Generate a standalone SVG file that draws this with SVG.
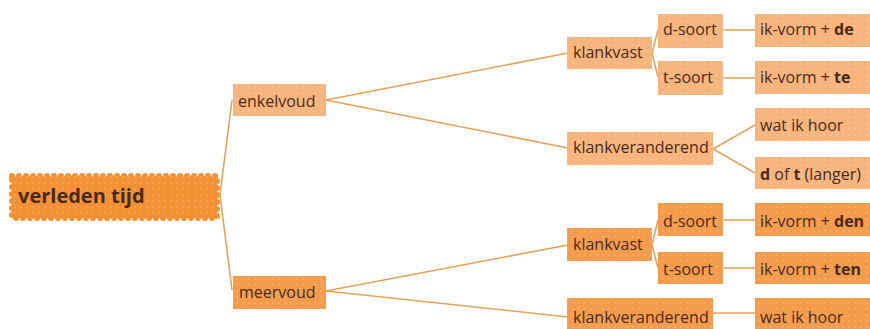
<svg xmlns="http://www.w3.org/2000/svg" width="870" height="329" viewBox="0 0 870 329">
<defs>
<pattern id="dots" width="6" height="6" patternUnits="userSpaceOnUse">
<circle cx="3" cy="3" r="1.1" fill="#ffffff" fill-opacity="0.18"/>
</pattern>
<style>
.lt{fill:#f7b47c}
.dk{fill:#f49c4c}
.tx{fill:url(#dots)}
text{font-family:"Open Sans","Noto Sans",sans-serif;font-size:16px;fill:#4a2a17}
.b{font-weight:bold}
.root{font-size:20px;font-weight:bold}
.con path{fill:none;stroke:#e3a35c;stroke-width:1.6}
</style>
</defs>
<rect width="870" height="329" fill="#ffffff"/>
<g class="con">
<path d="M232,100 L220,195 L232,290"/>
<path d="M326,100 L568,53"/>
<path d="M326,100 L568,148"/>
<path d="M326,291 L568,245"/>
<path d="M326,291 L568,317"/>
<path d="M652,53 L658,30"/>
<path d="M652,53 L658,77"/>
<path d="M724,30 H755"/>
<path d="M724,78 H755"/>
<path d="M713,149 L755,125"/>
<path d="M713,149 L755,173"/>
<path d="M652,245 L658,220"/>
<path d="M652,245 L658,268"/>
<path d="M724,220 H755"/>
<path d="M724,268 H755"/>
<path d="M713,313 H755"/>
</g>
<g id="root">
<rect x="12" y="176" width="205" height="42" fill="#f29033" stroke="#f29033" stroke-width="6" stroke-dasharray="0 7" stroke-linecap="round"/>
<rect x="12" y="176" width="205" height="42" class="tx"/>
<text x="18" y="203" class="root">verleden tijd</text>
</g>
<g id="enkelvoud">
<rect x="233" y="84" width="93" height="32" class="lt"/><rect x="233" y="84" width="93" height="32" class="tx"/>
<text x="238" y="107">enkelvoud</text>
</g>
<g id="meervoud">
<rect x="233" y="276" width="93" height="33" class="dk"/><rect x="233" y="276" width="93" height="33" class="tx"/>
<text x="239" y="298">meervoud</text>
</g>
<g id="klankvast1">
<rect x="567" y="37" width="85" height="32" class="lt"/><rect x="567" y="37" width="85" height="32" class="tx"/>
<text x="573" y="58">klankvast</text>
</g>
<g id="dsoort1">
<rect x="658" y="14" width="65" height="34" class="lt"/><rect x="658" y="14" width="65" height="34" class="tx"/>
<text x="663" y="35">d-soort</text>
</g>
<g id="tsoort1">
<rect x="658" y="61" width="65" height="34" class="lt"/><rect x="658" y="61" width="65" height="34" class="tx"/>
<text x="663" y="83">t-soort</text>
</g>
<g id="ikde">
<rect x="755" y="14" width="120" height="33" class="lt"/><rect x="755" y="14" width="120" height="33" class="tx"/>
<text x="760" y="35">ik-vorm + <tspan class="b">de</tspan></text>
</g>
<g id="ikte">
<rect x="755" y="61" width="120" height="33" class="lt"/><rect x="755" y="61" width="120" height="33" class="tx"/>
<text x="760" y="83">ik-vorm + <tspan class="b">te</tspan></text>
</g>
<g id="klankver1">
<rect x="567" y="132" width="146" height="33" class="lt"/><rect x="567" y="132" width="146" height="33" class="tx"/>
<text x="573" y="153">klankveranderend</text>
</g>
<g id="watikhoor1">
<rect x="755" y="108" width="120" height="33" class="lt"/><rect x="755" y="108" width="120" height="33" class="tx"/>
<text x="760" y="131">wat ik hoor</text>
</g>
<g id="doft">
<rect x="755" y="157" width="120" height="32" class="lt"/><rect x="755" y="157" width="120" height="32" class="tx"/>
<text x="760" y="180"><tspan class="b">d</tspan> of <tspan class="b">t</tspan> (langer)</text>
</g>
<g id="klankvast2">
<rect x="567" y="228" width="85" height="33" class="dk"/><rect x="567" y="228" width="85" height="33" class="tx"/>
<text x="573" y="250">klankvast</text>
</g>
<g id="dsoort2">
<rect x="658" y="203" width="65" height="33" class="dk"/><rect x="658" y="203" width="65" height="33" class="tx"/>
<text x="663" y="227">d-soort</text>
</g>
<g id="tsoort2">
<rect x="658" y="252" width="65" height="32" class="dk"/><rect x="658" y="252" width="65" height="32" class="tx"/>
<text x="663" y="275">t-soort</text>
</g>
<g id="ikden">
<rect x="755" y="203" width="120" height="33" class="dk"/><rect x="755" y="203" width="120" height="33" class="tx"/>
<text x="760" y="227">ik-vorm + <tspan class="b">den</tspan></text>
</g>
<g id="ikten">
<rect x="755" y="252" width="120" height="32" class="dk"/><rect x="755" y="252" width="120" height="32" class="tx"/>
<text x="760" y="275">ik-vorm + <tspan class="b">ten</tspan></text>
</g>
<g id="klankver2">
<rect x="567" y="298" width="146" height="35" class="dk"/><rect x="567" y="298" width="146" height="35" class="tx"/>
<text x="573" y="323">klankveranderend</text>
</g>
<g id="watikhoor2">
<rect x="755" y="298" width="120" height="35" class="dk"/><rect x="755" y="298" width="120" height="35" class="tx"/>
<text x="760" y="323">wat ik hoor</text>
</g>
</svg>
